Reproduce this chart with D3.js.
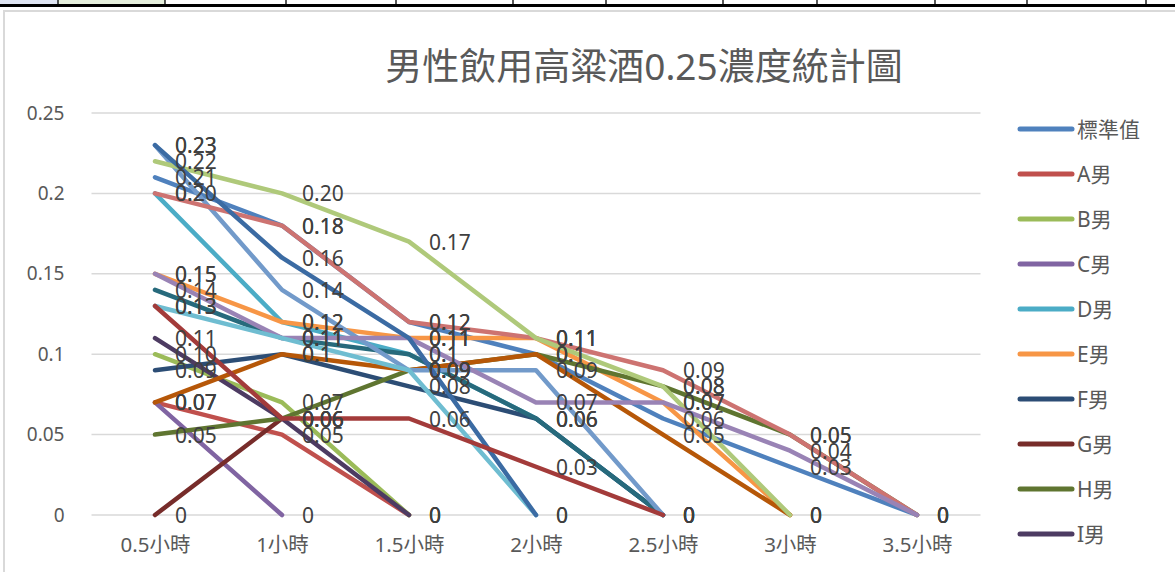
<!DOCTYPE html>
<html>
<head>
<meta charset="utf-8">
<script src="https://cdn.jsdelivr.net/npm/d3@7"></script>
<style>
  html, body { margin: 0; padding: 0; background: #ffffff; }
  svg { display: block; }
</style>
</head>
<body>
<svg id="chart" width="1175" height="572"></svg>
<script>
// ---- data ----
const categories = ["0.5小時", "1小時", "1.5小時", "2小時", "2.5小時", "3小時", "3.5小時"];
const yTickValues = [0, 0.05, 0.1, 0.15, 0.2, 0.25];
const yTickLabels = ["0", "0.05", "0.1", "0.15", "0.2", "0.25"];

const seriesNames = ["標準值", "A男", "B男", "C男", "D男", "E男", "F男", "G男", "H男", "I男",
                     "J男", "K男", "L男", "M男", "N男", "O男", "P男", "Q男", "R男"];
const standardValues = [0.21, 0.18, 0.12, 0.10, 0.06, 0.03, 0];
const maleA = [0.07, 0.05, 0, null, null, null, null];
const maleB = [0.10, 0.07, 0, null, null, null, null];
const maleC = [0.07, 0, null, null, null, null, null];
const maleD = [0.20, 0.12, 0.10, 0.06, 0, null, null];
const maleE = [0.15, 0.12, 0.11, 0.11, 0.07, 0, null];
const maleF = [0.09, 0.10, 0.08, 0.06, 0, null, null];
const maleG = [0, 0.06, null, null, null, null, null];
const maleH = [0.05, 0.06, 0.09, 0.10, 0.08, 0.05, 0];
const maleI = [0.11, 0.06, 0, null, null, null, null];
const maleJ = [0.14, 0.11, 0.10, 0.06, 0, null, null];
const maleK = [0.07, 0.10, 0.09, 0.10, 0.05, 0, null];
const maleL = [0.23, 0.14, 0.09, 0.09, 0, null, null];
const maleM = [0.20, 0.18, 0.12, 0.11, 0.09, 0.05, 0];
const maleN = [0.22, 0.20, 0.17, 0.11, 0.08, 0, null];
const maleO = [0.15, 0.11, 0.11, 0.07, 0.07, 0.04, 0];
const maleP = [0.13, 0.11, 0.09, 0, null, null, null];
const maleQ = [0.23, 0.16, 0.11, 0, null, null, null];
const maleR = [0.13, 0.06, 0.06, 0.03, 0, null, null];

const seriesValues = [standardValues, maleA, maleB, maleC, maleD, maleE, maleF, maleG, maleH, maleI,
                      maleJ, maleK, maleL, maleM, maleN, maleO, maleP, maleQ, maleR];
const seriesColors = ["#4F81BD", "#C0504D", "#9BBB59", "#8064A2", "#4BACC6", "#F79646",
                      "#2C4D75", "#772C2A", "#5F7530", "#4D3B62", "#276A7C", "#B65708",
                      "#729ACA", "#CD7371", "#AFC97A", "#9983B5", "#6FBDD1", "#3B6BA3", "#A33B3A"];
// series whose labels use two decimals
const twoDecimalSeries = ["B男", "M男", "N男"];

const title = "男性飲用高粱酒0.25濃度統計圖";

// ---- layout ----
const svg = d3.select("#chart");
const plot = { left: 91.5, right: 980.5, top: 113, bottom: 515 };
const numFont = "'Noto Sans', 'Noto Sans CJK TC', sans-serif";
const cjkFont = "'Noto Sans', 'Noto Sans CJK TC', sans-serif";

// spreadsheet strip above the chart
const cellEdges = [58, 165, 286, 396, 513, 606, 723, 817, 935, 1027, 1146];
svg.append("rect").attr("x", 0).attr("y", 0).attr("width", 58).attr("height", 5).attr("fill", "#dfe5f3");
svg.append("rect").attr("x", 58).attr("y", 0).attr("width", 107).attr("height", 5).attr("fill", "#e6efdd");
svg.selectAll("line.cell").data(cellEdges).join("line")
  .attr("class", "cell")
  .attr("x1", d => d).attr("x2", d => d).attr("y1", 0).attr("y2", 5)
  .attr("stroke", "#000").attr("stroke-width", 1.3);
svg.append("rect").attr("x", 0).attr("y", 4).attr("width", 1175).attr("height", 3).attr("fill", "#000");

// chart area frame
svg.append("rect")
  .attr("x", 4).attr("y", 11).attr("width", 1300).attr("height", 700)
  .attr("fill", "#ffffff").attr("stroke", "#d9d9d9").attr("stroke-width", 2);

// title
svg.append("text")
  .attr("x", 644).attr("y", 65)
  .attr("text-anchor", "middle").attr("dominant-baseline", "central")
  .attr("font-family", cjkFont).attr("font-size", 37).attr("fill", "#595959")
  .text(title);

// scales
const xBand = d3.scaleBand().domain(categories).range([plot.left, plot.right]).padding(0);
const xc = c => xBand(c) + xBand.bandwidth() / 2;
const y = d3.scaleLinear().domain([0, 0.25]).range([plot.bottom, plot.top]);

// gridlines
svg.append("g").selectAll("line").data(yTickValues).join("line")
  .attr("x1", plot.left).attr("x2", plot.right)
  .attr("y1", d => y(d)).attr("y2", d => y(d))
  .attr("stroke", "#d9d9d9").attr("stroke-width", 1.5);

// y axis labels
const yAxis = svg.append("g")
  .attr("transform", `translate(${plot.left - 24},0)`)
  .call(d3.axisLeft(y).tickValues(yTickValues).tickSize(0)
    .tickFormat((d, i) => yTickLabels[i]));
yAxis.select(".domain").remove();
yAxis.selectAll("text")
  .attr("font-family", numFont).attr("font-size", 19).attr("fill", "#595959");

// x axis labels
const xAxis = svg.append("g")
  .attr("transform", `translate(0,${plot.bottom + 23})`)
  .call(d3.axisBottom(d3.scalePoint().domain(categories).range([xc(categories[0]), xc(categories[categories.length - 1])]))
    .tickSize(0));
xAxis.select(".domain").remove();
xAxis.selectAll("text")
  .attr("font-family", cjkFont).attr("font-size", 20.5).attr("fill", "#595959")
  .attr("dy", "0.55em");

// lines
const series = seriesNames.map((name, i) => ({
  name,
  color: seriesColors[i],
  points: seriesValues[i].map((v, j) => ({ cat: categories[j], v }))
}));

const line = d3.line()
  .defined(d => d.v !== null)
  .x(d => xc(d.cat))
  .y(d => y(d.v));

svg.append("g").selectAll("path").data(series).join("path")
  .attr("d", s => line(s.points))
  .attr("fill", "none")
  .attr("stroke", s => s.color)
  .attr("stroke-width", 4.5)
  .attr("stroke-linejoin", "round")
  .attr("stroke-linecap", "round");

// value labels
const fmt = (name, v) => {
  if (v === 0) return "0";
  if (twoDecimalSeries.includes(name)) return v.toFixed(2);
  return String(+v.toFixed(2));
};
const labelG = svg.append("g");
series.forEach(s => {
  labelG.selectAll(null).data(s.points.filter(p => p.v !== null)).join("text")
    .attr("x", p => xc(p.cat) + 20)
    .attr("y", p => y(p.v))
    .attr("dominant-baseline", "central")
    .attr("font-family", numFont).attr("font-size", 21).attr("fill", "#404040")
    .text(p => fmt(s.name, p.v));
});

// legend: room for the first ten entries only
const legend = svg.append("g");
const legendItems = legend.selectAll("g").data(series.slice(0, 10)).join("g")
  .attr("transform", (s, i) => `translate(1020,${129 + i * 45})`);
legendItems.append("line")
  .attr("x1", 0).attr("x2", 52).attr("y1", 0).attr("y2", 0)
  .attr("stroke", s => s.color).attr("stroke-width", 5).attr("stroke-linecap", "round");
legendItems.append("text")
  .attr("x", 57).attr("y", 0).attr("dominant-baseline", "central")
  .attr("font-family", cjkFont).attr("font-size", 21).attr("fill", "#595959")
  .text(s => s.name);
</script>
</body>
</html>
